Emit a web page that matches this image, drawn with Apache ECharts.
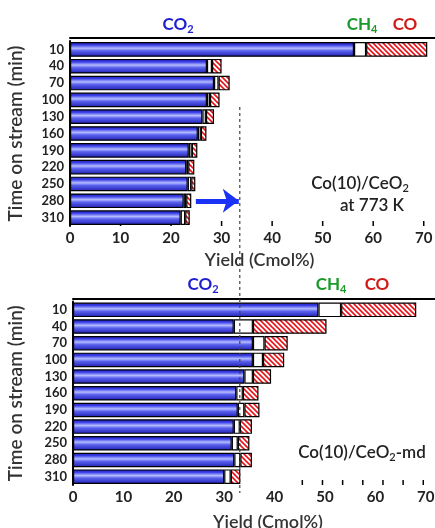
<!DOCTYPE html>
<html>
<head>
<meta charset="utf-8">
<script src="https://cdn.jsdelivr.net/npm/echarts@6/dist/echarts.min.js"></script>
<style>
  html, body { margin: 0; padding: 0; background: #fff; }
  #chart { width: 435px; height: 528px; }
</style>
</head>
<body>
<div id="chart"></div>
<script>
// time on stream (min), top to bottom
const times = ['10', '40', '70', '100', '130', '160', '190', '220', '250', '280', '310'];

// Co(10)/CeO2 at 773 K, yields in Cmol%
const topCO2 = [56.2, 27.1, 28.5, 27.1, 26.2, 25.3, 23.5, 23.0, 23.3, 22.5, 21.9];
const topCH4 = [2.4, 1.0, 0.9, 0.6, 0.7, 0.6, 0.6, 0.4, 0.7, 0.5, 0.9];
const topCO = [12.1, 1.9, 2.2, 1.9, 1.6, 1.1, 1.1, 1.2, 0.8, 1.0, 0.9];

// Co(10)/CeO2-md
const botCO2 = [48.7, 31.9, 35.7, 35.7, 34.0, 32.4, 32.7, 31.9, 31.5, 32.0, 30.0];
const botCH4 = [4.5, 3.8, 2.3, 2.0, 1.7, 1.3, 1.3, 1.2, 1.2, 1.2, 1.3];
const botCO = [14.9, 14.6, 4.6, 4.2, 3.6, 3.1, 3.0, 2.4, 2.3, 2.3, 1.9];

// tick marks on the x axes
const topTickValues = [10, 20, 30, 40, 50, 60, 70];
const botTickValues = [45.5, 49.5, 53.5, 57.5, 61.5, 65.5, 69.5, 73.5];

const dashValue = 33.6;          // dashed guide line (Yield)
const arrowFrom = 24.9;          // arrow start (Yield), on row 280

const FONT = 'Lato, "Open Sans", sans-serif';

// red hatch pattern for CO
const hatch = document.createElement('canvas');
hatch.width = 5; hatch.height = 5;
(function () {
  const c = hatch.getContext('2d');
  c.fillStyle = '#fff';
  c.fillRect(0, 0, 5, 5);
  c.strokeStyle = '#e8141c';
  c.lineWidth = 1.6;
  c.beginPath();
  c.moveTo(-1, -1); c.lineTo(6, 6);
  c.moveTo(-1, 4); c.lineTo(1, 6);
  c.moveTo(4, -1); c.lineTo(6, 1);
  c.stroke();
})();

const blueFill = new echarts.graphic.LinearGradient(0, 0, 0, 1, [
  { offset: 0, color: '#1c1ca8' },
  { offset: 0.2, color: '#3a3ee8' },
  { offset: 0.42, color: '#b4bcff' },
  { offset: 0.6, color: '#5a60ee' },
  { offset: 1, color: '#1e1eb0' }
]);

function barSeries(name, data, idx, fill, extra) {
  return Object.assign({
    name: name,
    type: 'bar',
    stack: 's' + idx,
    xAxisIndex: idx,
    yAxisIndex: idx,
    data: data,
    barCategoryGap: '13%',
    itemStyle: { color: fill, borderColor: '#000', borderWidth: 1.2 },
    silent: true
  }, extra || {});
}

function valueAxis(grid, nameGap, namePad) {
  return {
    type: 'value', gridIndex: grid, min: 0, max: 75, interval: 10,
    name: 'Yield (Cmol%)', nameLocation: 'middle', nameGap: nameGap, nameMoveOverlap: false,
    nameTextStyle: { fontFamily: FONT, fontSize: 18, fontWeight: 600, color: '#333', padding: namePad },
    axisLine: { lineStyle: { color: '#000', width: 2 } },
    axisTick: { show: false },
    axisLabel: { fontFamily: FONT, fontSize: 15, fontWeight: 'bold', color: '#222', margin: 5, showMaxLabel: false },
    splitLine: { show: false }
  };
}

function borderAxis(grid) {
  return {
    type: 'value', gridIndex: grid, position: 'top', offset: 3, min: 0, max: 75,
    axisLine: { show: true, lineStyle: { color: '#000', width: 2 } },
    axisTick: { show: false }, axisLabel: { show: false }, splitLine: { show: false }
  };
}

function catAxis(grid, nameGap) {
  return {
    type: 'category', gridIndex: grid, data: times, inverse: true,
    name: 'Time on stream (min)', nameLocation: 'middle', nameGap: nameGap,
    nameTextStyle: { fontFamily: FONT, fontSize: 19, fontWeight: 600, color: '#333' },
    axisLine: { lineStyle: { color: '#000', width: 2 } },
    axisTick: { show: false },
    axisLabel: { interval: 0, fontFamily: FONT, fontSize: 13, fontWeight: 'bold', color: '#222', margin: 6 }
  };
}

function gasLabel(main, sub, color, x, y) {
  return {
    type: 'text', x: x, y: y,
    style: {
      text: '{a|' + main + '}' + (sub ? '{s|' + sub + '}' : ''),
      align: 'center', verticalAlign: 'middle', fill: color,
      rich: {
        a: { fontFamily: FONT, fontSize: 17, fontWeight: 'bold', color: color, lineHeight: 20 },
        s: { fontFamily: FONT, fontSize: 11, fontWeight: 'bold', color: color, padding: [9, 0, 0, 0] }
      }
    }
  };
}

function plainLabel(main, sub, tail, x, y) {
  return {
    type: 'text', x: x, y: y,
    style: {
      text: '{a|' + main + '}' + (sub ? '{s|' + sub + '}' : '') + (tail ? '{a|' + tail + '}' : ''),
      align: 'center', verticalAlign: 'middle', fill: '#222',
      rich: {
        a: { fontFamily: FONT, fontSize: 17, fontWeight: 600, color: '#222', lineHeight: 20 },
        s: { fontFamily: FONT, fontSize: 11, fontWeight: 600, color: '#222', padding: [9, 0, 0, 0] }
      }
    }
  };
}

const chart = echarts.init(document.getElementById('chart'));

chart.setOption({
  animation: false,
  grid: [
    { left: 70, top: 41, width: 379, height: 185, outerBoundsMode: 'none', containLabel: false },
    { left: 73, top: 301.5, width: 378, height: 183.5, outerBoundsMode: 'none', containLabel: false }
  ],
  xAxis: [
    valueAxis(0, 25, [0, 0, 0, 0]),
    valueAxis(1, 28, [0, 0, 0, 12]),
    borderAxis(0),
    borderAxis(1)
  ],
  yAxis: [catAxis(0, 45), catAxis(1, 48)],
  series: [
    barSeries('CO2', topCO2, 0, blueFill, {
      markLine: {
        silent: true,
        symbol: ['none', 'arrow'],
        symbolSize: [18, 16],
        label: { show: false },
        lineStyle: { color: '#1a32f5', width: 5, type: 'solid' },
        data: [[{ coord: [arrowFrom, '280'] }, { coord: [dashValue - 0.2, '280'] }]]
      }
    }),
    barSeries('CH4', topCH4, 0, '#fff'),
    barSeries('CO', topCO, 0, { image: hatch, repeat: 'repeat' }),
    barSeries('CO2', botCO2, 1, blueFill),
    barSeries('CH4', botCH4, 1, '#fff'),
    barSeries('CO', botCO, 1, { image: hatch, repeat: 'repeat' })
  ]
});

// inward tick marks, placed through each panel's own x scale
function tickMarks(axisIndex, values) {
  const rect = chart.getModel().getComponent('grid', axisIndex).coordinateSystem.getRect();
  const yAxisLine = rect.y + rect.height;
  return values.map(function (v) {
    const x = chart.convertToPixel({ xAxisIndex: axisIndex }, v);
    return {
      type: 'line', z: 1, silent: true,
      shape: { x1: x, y1: yAxisLine - 5, x2: x, y2: yAxisLine },
      style: { stroke: '#000', lineWidth: 1.5 }
    };
  });
}

// dashed guide line running through both panels, plus the text labels
const dashX = chart.convertToPixel({ xAxisIndex: 0 }, dashValue);
chart.setOption({
  graphic: [
    {
      type: 'line', z: 100, silent: true,
      shape: { x1: dashX, y1: 107, x2: dashX, y2: 493 },
      style: { stroke: '#444', lineWidth: 1.2, lineDash: [3, 3] }
    },
    gasLabel('CO', '2', '#1f1fd0', 178, 25),
    gasLabel('CH', '4', '#1a9a2a', 362, 25),
    gasLabel('CO', '', '#d01a1a', 405, 25),
    gasLabel('CO', '2', '#1f1fd0', 203, 285),
    gasLabel('CH', '4', '#1a9a2a', 331, 285),
    gasLabel('CO', '', '#d01a1a', 377, 285),
    plainLabel('Co(10)/CeO', '2', '', 360, 184),
    plainLabel('at 773 K', '', '', 372, 206),
    plainLabel('Co(10)/CeO', '2', '-md', 362, 453)
  ].concat(tickMarks(0, topTickValues), tickMarks(1, botTickValues))
});
</script>
</body>
</html>
